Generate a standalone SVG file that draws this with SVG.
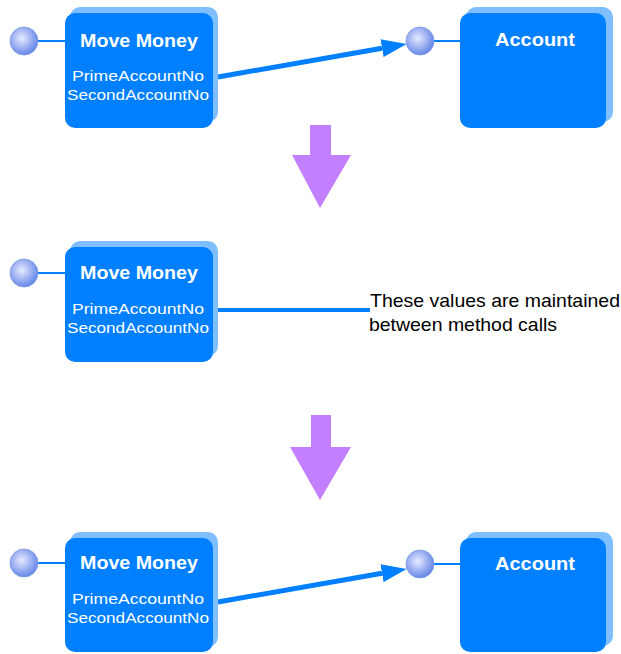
<svg xmlns="http://www.w3.org/2000/svg" width="621" height="654" viewBox="0 0 621 654">
<style>
.back{fill:#80bfff}
.box{fill:#0080ff}
.title{font-family:"Liberation Sans",Arial,sans-serif;font-weight:bold;font-size:19px;fill:#fff;text-anchor:middle}
.attr{font-family:"Liberation Sans",Arial,sans-serif;font-size:15px;fill:#fff;text-anchor:middle}
.note{font-family:"Liberation Sans",Arial,sans-serif;font-size:19px;fill:#000}
.stem{stroke:#0080ff;stroke-width:2}
.ball{fill:url(#sphere);stroke:#7f9be6;stroke-width:0.8}
.conn{stroke:#0080ff;stroke-width:5;fill:none}
.step{fill:#c27fff}
</style>
<defs>
<radialGradient id="sphere" cx="0.42" cy="0.4" r="0.6">
<stop offset="0" stop-color="#e4ecff"/>
<stop offset="0.5" stop-color="#a8b8f4"/>
<stop offset="1" stop-color="#6688e6"/>
</radialGradient>
<marker id="head" viewBox="0 0 25 18" refX="0" refY="9" markerWidth="25" markerHeight="18" markerUnits="userSpaceOnUse" orient="auto">
<path d="M0,0 L25,9 L0,18 z" fill="#0080ff"/>
</marker>
</defs>

<g id="connectors">
<line class="conn" x1="218" y1="77" x2="382" y2="48.2" marker-end="url(#head)"/>
<line class="conn" x1="218" y1="310" x2="370" y2="310" style="stroke-width:4"/>
<line class="conn" x1="218" y1="602" x2="382" y2="573.2" marker-end="url(#head)"/>
</g>

<g id="move-money-1">
<line class="stem" x1="36" y1="41" x2="66" y2="41"/>
<circle class="ball" cx="24" cy="41" r="14"/>
<rect class="back" x="70" y="7" width="148" height="115" rx="10"/>
<rect class="box" x="65" y="13" width="148" height="115" rx="10"/>
<text class="title" x="139" y="47" textLength="118" lengthAdjust="spacingAndGlyphs">Move Money</text>
<text class="attr" x="138" y="81" textLength="132" lengthAdjust="spacingAndGlyphs">PrimeAccountNo</text>
<text class="attr" x="138" y="100" textLength="142" lengthAdjust="spacingAndGlyphs">SecondAccountNo</text>
</g>

<g id="account-1">
<line class="stem" x1="432" y1="41" x2="461" y2="41"/>
<circle class="ball" cx="420" cy="41" r="14"/>
<rect class="back" x="466" y="7" width="147" height="115" rx="10"/>
<rect class="box" x="460" y="13" width="146" height="115" rx="10"/>
<text class="title" x="535" y="46" textLength="80" lengthAdjust="spacingAndGlyphs">Account</text>
</g>

<g id="step-arrow-1">
<polygon class="step" points="310,125 331,125 331,155 351,155 320,208 292,155 310,155"/>
</g>

<g id="move-money-2">
<line class="stem" x1="36" y1="273" x2="66" y2="273"/>
<circle class="ball" cx="24" cy="273" r="14"/>
<rect class="back" x="70" y="241" width="148" height="115" rx="10"/>
<rect class="box" x="65" y="247" width="148" height="115" rx="10"/>
<text class="title" x="139" y="279" textLength="118" lengthAdjust="spacingAndGlyphs">Move Money</text>
<text class="attr" x="138" y="314" textLength="132" lengthAdjust="spacingAndGlyphs">PrimeAccountNo</text>
<text class="attr" x="138" y="333" textLength="142" lengthAdjust="spacingAndGlyphs">SecondAccountNo</text>
</g>

<g id="note">
<text class="note" x="370" y="307" textLength="250" lengthAdjust="spacingAndGlyphs">These values are maintained</text>
<text class="note" x="369" y="331" textLength="188" lengthAdjust="spacingAndGlyphs">between method calls</text>
</g>

<g id="step-arrow-2">
<polygon class="step" points="311,415 331,415 331,447 351,447 320,500 290,447 311,447"/>
</g>

<g id="move-money-3">
<line class="stem" x1="36" y1="563" x2="66" y2="563"/>
<circle class="ball" cx="24" cy="563" r="14"/>
<rect class="back" x="70" y="532" width="148" height="115" rx="10"/>
<rect class="box" x="65" y="538" width="148" height="114" rx="10"/>
<text class="title" x="139" y="569" textLength="118" lengthAdjust="spacingAndGlyphs">Move Money</text>
<text class="attr" x="138" y="604" textLength="132" lengthAdjust="spacingAndGlyphs">PrimeAccountNo</text>
<text class="attr" x="138" y="623" textLength="142" lengthAdjust="spacingAndGlyphs">SecondAccountNo</text>
</g>

<g id="account-3">
<line class="stem" x1="432" y1="564" x2="461" y2="564"/>
<circle class="ball" cx="420" cy="564" r="14"/>
<rect class="back" x="466" y="532" width="147" height="114" rx="10"/>
<rect class="box" x="460" y="538" width="146" height="114" rx="10"/>
<text class="title" x="535" y="570" textLength="80" lengthAdjust="spacingAndGlyphs">Account</text>
</g>
</svg>
